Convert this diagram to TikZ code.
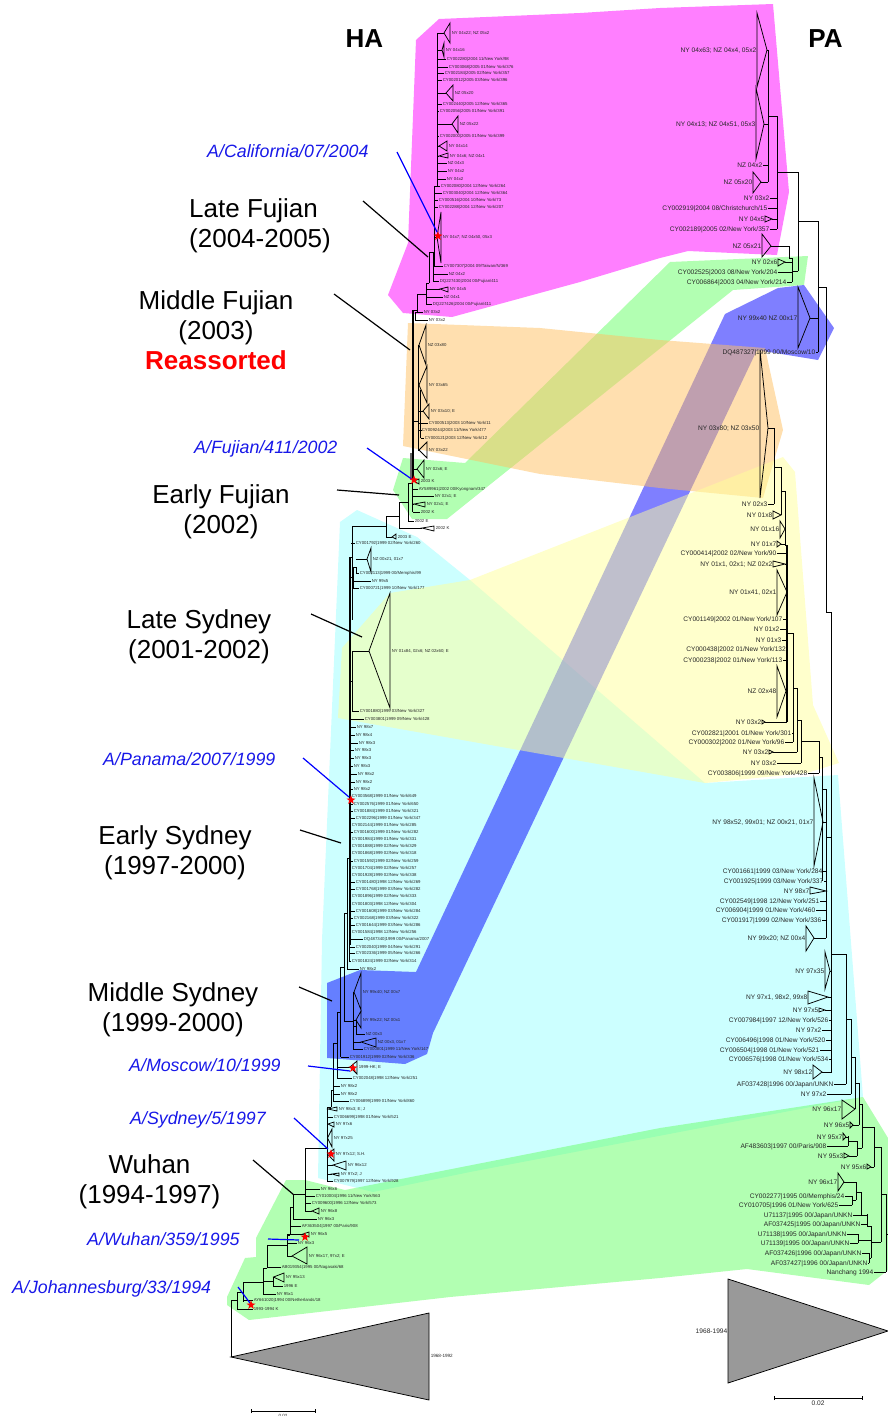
\documentclass[tikz,border=0pt]{standalone}
\usepackage{fontspec}
\setmainfont{Liberation Sans}
\usetikzlibrary{shapes.geometric, arrows.meta, positioning}
\definecolor{cladepink}{HTML}{FF00FF}
\definecolor{cladeorange}{HTML}{FFC060}
\definecolor{cladegreen}{HTML}{66FF66}
\definecolor{cladeblue}{HTML}{0000FF}
\definecolor{cladeyellow}{HTML}{FFFF99}
\definecolor{cladecyan}{HTML}{99FFFF}
\definecolor{strainblue}{HTML}{1818E8}
\definecolor{collapsed}{HTML}{999999}

\begin{document}
\begin{tikzpicture}[
  x=1pt, y=-1pt,
  patch/.style={fill opacity=0.5},
  branch/.style={draw=black, line width=0.75pt},
  thickbranch/.style={draw=black, line width=1.5pt},
  haleaf/.style={font=\fontsize{4.3}{5}\selectfont, text=black!85, inner sep=0.6pt, text height=3.1pt, text depth=0pt, anchor=west},
  paleaf/.style={font=\fontsize{6.6}{7}\selectfont, text=black!85, inner sep=0.5pt, text height=4.8pt, text depth=0pt, anchor=east},
  clade/.style={font=\fontsize{26}{30}\selectfont, align=center, inner sep=0pt},
  segment/.style={font=\fontsize{26}{26}\selectfont\bfseries, inner sep=0pt},
  strain/.style={font=\fontsize{17.8}{20}\selectfont\itshape, text=strainblue, anchor=west, inner sep=0pt},
  bluelead/.style={draw=blue, line width=1.2pt},
  blacklead/.style={draw=black, line width=1.2pt},
  redstar/.style={star, star points=5, star point ratio=2.5, fill=red, draw=none, minimum size=9.5pt, inner sep=0pt}
]
  \useasboundingbox (0,0) rectangle (888,1416);

  % Coloured clades
  \fill[patch, cladecyan] (357,510) -- (417,537) -- (470,580) -- (705,783) -- (838,775) -- (863,1097) -- (470,1172) -- (373,1192) -- (318,1178) -- (322,940) -- (340,522) -- cycle;
  \fill[patch, cladegreen] (286,1180) -- (305,1180) -- (345,1190) -- (660,1128) -- (863,1097) -- (888,1138) -- (888,1270) -- (869,1285) -- (747,1269) -- (660,1278) -- (450,1297) -- (249,1320) -- (227,1305) -- (227,1297) -- (245,1258) -- (256,1257) -- (256,1238) -- cycle;
  \fill[patch, cladegreen] (403,458) -- (465,463) -- (670,262) -- (808,256) -- (804,285) -- (733,290) -- (447,519) -- (412,519) -- (393,490) -- cycle;
  \fill[patch, cladeblue] (725,314) -- (778,288) -- (804,285) -- (834,328) -- (818,360) -- (757,350) -- (433,1033) -- (427,1054) -- (405,1064) -- (327,1058) -- (327,983) -- (360,970) -- (416,972) -- cycle;
  \fill[patch, cladepink] (439,19) -- (580,13) -- (660,8) -- (773,4) -- (789,192) -- (777,255) -- (688,251) -- (660,258) -- (580,282) -- (452,317) -- (403,313) -- (388,295) -- (408,243) -- (416,40) -- cycle;
  \fill[patch, cladeorange] (408,323) -- (540,328) -- (660,340) -- (765,348) -- (783,430) -- (763,498) -- (660,488) -- (540,474) -- (403,446) -- cycle;
  \fill[patch, cladeyellow] (342,648) -- (390,593) -- (470,580) -- (783,457) -- (795,472) -- (813,705) -- (839,763) -- (807,773) -- (705,783) -- (338,718) -- cycle;

  % Collapsed roots
  \filldraw[branch, fill=collapsed] (231,1357) -- (429,1313) -- (429,1400) -- cycle;
  \filldraw[branch, fill=collapsed] (888,1331) -- (728,1279) -- (728,1383) -- cycle;
  \node[haleaf, font=\fontsize{4.6}{5}\selectfont] (haroot) at (430,1356) {1968-1992};
  \node[paleaf] (paroot) at (728,1331) {1968-1994};

  % Titles
  \node[segment] (hatitle) at (364.5,39) {HA};
  \node[segment] (patitle) at (825.5,39) {PA};

  % HA tree, internal branches
  \foreach \xx/\ya/\yb in {437.5/33/186, 434/186/267, 433/252/281, 429/252/283, 426/283/305, 417/294/312, 415/312/320, 418/345/450, 420.5/390/438, 408/483/521, 412.5/480/512, 399/502/528, 386/516/537, 352/526/620, 356/567/573, 353/567/588, 352/651/712, 349/930/961, 347/858/969, 344/913/1021, 340/967/1057, 337/1012/1078, 333/1043/1101, 331/1090/1107, 327/1107/1181, 353/992/1049, 356/1020/1034, 305/1148/1211, 293/1194/1219, 290/1207/1235, 287/1234/1256, 267/1245/1267, 263/1268/1294, 273/1277/1286, 243/1282/1302, 237/1292/1309, 231/1300/1357}
    \draw[branch] (\xx,\ya) -- (\xx,\yb);
  \foreach \yy/\xa/\xb in {186/434/437.5, 252/429/434, 283/426/429, 294/417/426, 310/413/417, 421/413/418, 430/418/420.5, 483/408/413, 502/399/408, 516/386/399, 526/352/386, 557/350/352, 567/353/356, 577/350/353, 681/350/352, 858/347/350, 913/344/347, 967/340/344, 1012/337/340, 1021/344/353, 1026/353/356, 1043/333/337, 1090/331/333, 1107/327/331, 1148/305/327, 1194/293/305, 1207/290/293, 1235/288/290, 1245/267/287, 1268/263/267, 1281/263/273, 1282/243/263, 1292/237/243, 1300/231/237}
    \draw[branch] (\xa,\yy) -- (\xb,\yy);
  \draw[thickbranch] (413,310) -- (413,480);
  \draw[thickbranch] (350,557) -- (350,945);
  \draw[line width=2pt, draw=black!60] (411,453) -- (411,480);

  % HA tree, single strains
  \foreach \xa/\xl/\yy/\txt [count=\i] in {
    438/446/59/{CY002280|2004 11/New York/98}, 438/448/67/{CY003068|2005 01/New York/376}, 438/444/73/{CY002184|2005 02/New York/357}, 438/442/80/{CY002012|2005 03/New York/396},
    438/442/104/{CY002440|2005 12/New York/365}, 438/439/111/{CY002056|2005 01/New York/391}, 438/439/136/{CY002000|2005 01/New York/399},
    438/447/163/{NZ 04x3}, 438/447/171/{NY 04x2}, 438/446/179/{NY 04x2}, 437.5/440/186/{CY002080|2004 12/New York/264},
    434/442/193/{CY003040|2004 12/New York/364}, 434/438/200/{CY000516|2004 10/New York/73}, 434/438/207/{CY002288|2004 12/New York/207},
    434/443/266/{CY007307|2004 09/Taiwan/N/369}, 434/448/274/{NZ 04x2}, 433/439/281/{DQ227430|2004 00/Fujian/411}, 427/443/297/{NZ 04x1}, 426/432/304/{DQ227426|2004 00/Fujian/411},
    415/423/312/{NY 03x2}, 415/428/320/{NY 03x2}, 418/428/423/{CY000513|2003 10/New York/11}, 420.5/421/430/{CY009244|2003 11/New York/477}, 420.5/424/438/{CY000121|2003 12/New York/12},
    413/418/489/{AY589961|2002 00/Kyongnam/347}, 413/434/496/{NY 02x1; E}, 412.5/420/512/{2002 K}, 408/414/521/{2002 E},
    351/355/543/{CY001792|1999 02/New York/260}, 356/359/573/{CY002113|1999 00/Memphis/99}, 353/371/581/{NY 99x5}, 353/359/588/{CY000721|1999 10/New York/177},
    352/359/711/{CY001880|1999 03/New York/327}, 350/364/719/{CY003801|1999 09/New York/428},
    350/356/727/{NY 98x7}, 350/355/735/{NY 98x4}, 350/358/743/{NY 98x3}, 350/354/750/{NY 98x3}, 350/354/758/{NY 98x3}, 350/353/766/{NY 98x3}, 350/357/774/{NY 98x2}, 350/355/782/{NY 98x2}, 350/353/789/{NY 98x2},
    350/351/796/{CY003568|1999 01/New York/649}, 350/353/804/{CY002576|1999 01/New York/650}, 350/353/811/{CY001884|1999 01/New York/321}, 350/355/818/{CY002296|1999 01/New York/347}, 350/351/825/{CY002144|1999 01/New York/285}, 350/353/832/{CY001600|1999 01/New York/282}, 350/351/839/{CY001984|1999 01/New York/331}, 350/351/846/{CY001888|1999 02/New York/329}, 350/351/853/{CY001868|1999 02/New York/318},
    350/353/861/{CY001592|1999 02/New York/259}, 350/351/868/{CY001704|1999 02/New York/257}, 350/351/875/{CY001928|1999 02/New York/338}, 350/355/882/{CY001480|1998 12/New York/269}, 350/355/889/{CY001768|1999 03/New York/282}, 350/351/896/{CY001896|1999 02/New York/333}, 350/351/904/{CY001803|1998 12/New York/304}, 350/355/911/{CY001608|1999 03/New York/284}, 350/353/918/{CY002168|1999 03/New York/322}, 350/355/925/{CY001644|1999 03/New York/286}, 350/351/932/{CY001584|1998 12/New York/256},
    350/363/939/{DQ487340|1999 00/Panama/2007}, 349/355/947/{CY002040|1999 04/New York/291}, 349/355/953/{CY002336|1999 05/New York/266}, 349/351/961/{CY001824|1999 02/New York/314}, 347/359/969/{NY 98x2},
    356/365/1034/{NZ 00x3}, 353/363/1049/{CY000801|1999 11/New York/147}, 341/349/1057/{CY001912|1999 02/New York/336},
    337/352/1078/{CY002048|1998 12/New York/251}, 333/340/1086/{NY 98x2}, 333/340/1094/{NY 98x2}, 333/349/1101/{CY006899|1999 01/New York/860},
    327/333/1117/{CY006699|1998 01/New York/521}, 327/333/1181/{CY007979|1997 12/New York/928},
    305/320/1189/{NY 96x6}, 305/315/1196/{CY010004|1996 11/New York/563}, 305/311/1203/{CY009600|1996 12/New York/573}, 293/317/1219/{NY 96x3}, 290/301/1226/{AF363504|1997 00/Paris/908},
    287/297/1243/{NY 96x3}, 267/281/1267/{AB019354|1995 00/Nagasaki/68}, 273/283/1286/{1996 E}, 263/276/1294/{NY 95x1}, 243/253/1300/{AY661020|1994 00/Netherlands/18}, 237/253/1309/{1993-1994 K}}{
    \node[haleaf] (hs\i) at (\xl,\yy) {\txt};
    \draw[branch] (\xa,\yy) -- (hs\i);
  }

  % HA tree, collapsed clades
  \foreach \xs/\xa/\xb/\ya/\yb/\yy/\txt [count=\i] in {
    438/444/450/23/43/33/{NY 04x22; NZ 05x2}, 438/442/444/43/57/50/{NY 04x16}, 438/446/453/85/101/93/{NZ 05x20}, 438/452/458/116/133/124/{NZ 05x22}, 438/439/447/141/151/146/{NY 04x14}, 438/439/448/153/158/156/{NY 04x6; NZ 04x1},
    434/437/441/212/263/237/{NY 04x7; NZ 04x50, 05x3}, 427/440/448/287/292/289/{NY 04x5},
    418/419/426/325/365/345/{NZ 03x80}, 418/419/427/366/403/385/{NY 03x65}, 418/423/429/404/419/411/{NY 03x10; E}, 418/419/427/442/458/450/{NY 03x22},
    413/417/424/460/478/469/{NY 02x6; E}, 413/414/419/479/484/481/{2003 K}, 413/414/425/502/507/504/{NY 02x1; E}, 399/422/434/526/531/528/{2002 K}, 386/392/396/534/539/537/{2003 E},
    356/367/371/548/572/559/{NZ 00x21, 01x7}, 352/369/390/593/708/651/{NY 01x84, 02x6; NZ 02x60; E},
    353/354/361/973/1010/992/{NY 99x40; NZ 00x7}, 353/356/361/1011/1028/1020/{NY 99x22; NZ 00x1}, 353/361/376/1038/1047/1042/{NZ 00x3, 01x7}, 337/350/357/1061/1074/1067/{1999-HK; E},
    327/328/337/1107/1111/1109/{NY 98x3; E; J}, 327/328/334/1122/1127/1124/{NY 97x6}, 327/327.5/332/1129/1147/1138/{NY 97x25}, 327/327.5/334/1149/1161/1154/{NY 97x12; S.H.}, 327/333/346/1161/1170/1165/{NY 96x12}, 327/332/339/1173/1176/1174/{NY 97x2; J},
    305/312/319/1208/1214/1211/{NY 96x8}, 288/303/309/1232/1237/1234/{NY 96x5}, 287/292/307/1247/1264/1256/{NY 96x17, 97x2; E}, 273/273.5/284/1273/1282/1277/{NY 95x13}}{
    \node[haleaf] (hc\i) at (\xb+1,\yy) {\txt};
    \draw[branch] (\xs,\yy) -- (\xa,\yy);
    \draw[branch] (\xa,\yy) -- (\xb,\ya) -- (\xb,\yb) -- cycle;
  }

  % PA tree, internal branches
  \foreach \xx/\ya/\yb in {768/50/182, 777/116/229, 789/246/258, 792/258/282, 798/172/271, 818/221/352, 826/287/612, 774/428/504, 781/467/515, 785/491/545, 793/633/742, 797/688/752, 801/720/763, 819/741/773, 822.5/757/881, 826/789/938, 831/612/1072, 846/954/1084, 851/1019/1094, 855/1057/1109, 859/1083/1125, 848/1136/1146, 857/1141/1156, 862/1104/1148, 874/1127/1167, 852/1196/1205, 856/1182/1200, 861/1192/1215, 858/1234/1243, 867/1214/1226, 871/1226/1258, 869/1253/1263, 881/1147/1242, 886/1194/1272}
    \draw[branch] (\xx,\ya) -- (\xx,\yb);
  \foreach \yy/\xa/\xb in {116/768/777, 172/777/798, 258/789/792, 271/792/798, 221/798/818, 287/818/826, 467/774/781, 491/781/785, 545/785/787, 633/787/793, 688/793/797, 720/797/801, 741/801/819, 757/819/822.5, 612/826/831, 789/822.5/826, 837/826/831, 954/831/846, 1019/846/851, 1057/851/855, 1083/855/859, 1104/859/862, 1141/848/857, 1148/857/862, 1127/862/874, 1147/874/881, 1200/852/856, 1192/856/861, 1226/867/871, 1240/858/871, 1258/869/871, 1242/871/881, 1194/881/886, 1234/886/888}
    \draw[branch] (\xa,\yy) -- (\xb,\yy);
  \draw[thickbranch] (787,545) -- (787,722);

  % PA tree, single strains
  \foreach \xa/\xt/\yy/\txt [count=\i] in {
    777/770/198/{NY 03x2}, 777/768/208/{CY002919|2004 08/Christchurch/15}, 777/770/229/{CY002189|2005 02/New York/357}, 768/763/165/{NZ 04x2},
    792/778/272/{CY002525|2003 08/New York/204}, 792/787/282/{CY006864|2003 04/New York/214}, 818/816/352/{DQ487327|1999 00/Moscow/10}, 774/768/504/{NY 02x3},
    786/777/553/{CY000414|2002 02/New York/90}, 787/783/619/{CY001149|2002 01/New York/107}, 787/780/629/{NY 01x2}, 787/782/640/{NY 01x3}, 787/786.5/649/{CY000438|2002 01/New York/132}, 787/783/660/{CY000238|2002 01/New York/113},
    793/792/733/{CY002821|2001 01/New York/301}, 793/785/742/{CY000302|2002 01/New York/96}, 801/777/763/{NY 03x2}, 819/808/773/{CY003806|1999 09/New York/428},
    826/823/871/{CY001661|1999 03/New York/284}, 826/824/881/{CY001925|1999 03/New York/337}, 826/820/901/{CY002549|1998 12/New York/251}, 826/816/910/{CY006904|1999 01/New York/460}, 826/822/920/{CY001917|1999 02/New York/336},
    831/829/1020/{CY007984|1997 12/New York/526}, 831/822/1030/{NY 97x2}, 831/826/1040/{CY006496|1998 01/New York/520}, 831/820/1050/{CY006504|1998 01/New York/521}, 831/829/1059/{CY006576|1998 01/New York/534},
    846/834/1084/{AF037428|1996 00/Japan/UNKN}, 851/827/1094/{NY 97x2}, 848/827/1146/{AF483603|1997 00/Paris/908},
    852/845/1196/{CY002277|1995 00/Memphis/24}, 852/839/1205/{CY010705|1996 01/New York/625}, 867/853/1215/{U71137|1995 00/Japan/UNKN}, 867/861/1224/{AF037425|1995 00/Japan/UNKN}, 858/847/1234/{U71138|1995 00/Japan/UNKN}, 858/850/1243/{U71139|1995 00/Japan/UNKN}, 869/862/1253/{AF037426|1996 00/Japan/UNKN}, 869/868/1263/{AF037427|1996 00/Japan/UNKN}, 886/874/1272/{Nanchang 1994}}{
    \node[paleaf] (ps\i) at (\xt,\yy) {\txt};
    \draw[branch] (\xa,\yy) -- (ps\i);
  }

  % PA tree, collapsed clades
  \foreach \xs/\xa/\xb/\ya/\yb/\yy/\txt [count=\i] in {
    768/767/757/13/87/50/{NY 04x63; NZ 04x4, 05x2}, 768/764/756/88/159/124/{NY 04x13; NZ 04x51, 05x3}, 768/761/753/172/193/182/{NZ 05x20}, 777/772/765/216/222/219/{NY 04x5}, 789/771/762/234/257/246/{NZ 05x21}, 792/785/778/259/266/262/{NY 02x6},
    818/810/798/287/348/318/{NY 99x40 NZ 00x17}, 774/768/760/350/498/428/{NY 03x80; NZ 03x50}, 781/781/773/511/519/515/{NY 01x8}, 785/785/780/521/538/529/{NY 01x16}, 786/781/777/541/547/544/{NY 01x7}, 786/785/773/561/567/564/{NY 01x1, 02x1; NZ 02x2}, 787/787/777/570/615/592/{NY 01x41, 02x1}, 787/786/777/666/717/691/{NZ 02x48}, 787/765/762/720/724/722/{NY 03x2}, 797/773/769/750/754/752/{NY 03x2},
    826/823/814/778/866/822/{NY 98x52, 99x01; NZ 00x21, 01x7}, 826/826/810/887/894/891/{NY 98x7}, 826/814/806/926/951/938/{NY 99x20; NZ 00x4}, 831/830/825/952/989/971/{NY 97x35}, 831/828/808/991/1004/997/{NY 97x1, 98x2, 99x8}, 831/825/819/1008/1012/1010/{NY 97x5}, 832/822/813/1065/1079/1072/{NY 98x12},
    855/855/842/1100/1119/1109/{NY 96x17}, 859/853/850/1122/1128/1125/{NY 96x5}, 848/846/843/1133/1140/1137/{NY 95x7}, 857/849/844/1153/1158/1156/{NY 95x3}, 874/871/867/1164/1169/1167/{NY 95x6}, 856/844/838/1173/1191/1182/{NY 96x17}}{
    \node[paleaf] (pc\i) at (\xb,\yy) {\txt};
    \draw[branch] (\xs,\yy) -- (\xa,\yy);
    \draw[branch] (\xa,\yy) -- (\xb,\ya) -- (\xb,\yb) -- cycle;
  }

  % Scale bars
  \coordinate (hascaleL) at (251,1411);
  \coordinate (hascaleR) at (316,1411);
  \coordinate (pascaleL) at (774,1398);
  \coordinate (pascaleR) at (863,1398);
  \draw[branch, {Bar[width=4pt]}-{Bar[width=4pt]}] (hascaleL) -- (hascaleR);
  \draw[branch, {Bar[width=4pt]}-{Bar[width=4pt]}] (pascaleL) -- (pascaleR);
  \node[font=\fontsize{4.6}{5}\selectfont, text=black!85, inner sep=0pt] (hascale) at (283,1415.5) {0.02};
  \node[font=\fontsize{6.6}{7}\selectfont, text=black!85, inner sep=0pt] (pascale) at (818,1403.5) {0.02};

  % Clade names
  \node[clade, anchor=north west, align=left] (latefujian) at (189,198) {Late Fujian\\(2004-2005)};
  \node[clade] (midfujian) at (216,330) {Middle Fujian\\(2003)\\\textcolor{red}{\bfseries Reassorted}};
  \node[clade] (earlyfujian) at (221,512) {Early Fujian\\(2002)};
  \node[clade] (latesydney) at (199,637) {Late Sydney\\(2001-2002)};
  \node[clade] (earlysydney) at (175,853) {Early Sydney\\(1997-2000)};
  \node[clade] (midsydney) at (173,1009.5) {Middle Sydney\\(1999-2000)};
  \node[clade] (wuhan) at (149.5,1182) {Wuhan\\(1994-1997)};

  % Vaccine strains
  \node[strain] (california) at (207,151) {A/California/07/2004};
  \node[strain] (fujian) at (194,449) {A/Fujian/411/2002};
  \node[strain] (panama) at (103,759) {A/Panama/2007/1999};
  \node[strain] (moscow) at (129,1065) {A/Moscow/10/1999};
  \node[strain] (sydney) at (130,1120) {A/Sydney/5/1997};
  \node[strain] (wuhanstr) at (87,1239) {A/Wuhan/359/1995};
  \node[strain] (johannes) at (12,1289) {A/Johannesburg/33/1994};

  % Leaders
  \foreach \nm/\ax/\ay/\bx/\by in {lf/363/201/428/257, mf/334/294/410/350, ef/337/490/399/495, ls/311/614/362/637, es/300/830/341/843, ms/299/987/332/1001, wu/253/1160/294/1195}{
    \coordinate (\nm from) at (\ax,\ay);
    \coordinate (\nm to) at (\bx,\by);
    \draw[blacklead] (\nm from) -- (\nm to);
  }
  \foreach \nm/\ax/\ay/\bx/\by in {cal/397/152/437/232, fuj/367/448/413/480, pan/303/758/349/797, mos/308/1066/350/1071, syd/294/1118/328/1149, wuh/268/1239/299/1240, joh/238/1287/250/1303}{
    \coordinate (\nm from) at (\ax,\ay);
    \coordinate (\nm to) at (\bx,\by);
    \draw[bluelead] (\nm from) -- (\nm to);
  }

  % Vaccine markers
  \node[redstar] (starcal) at (438,236) {};
  \node[redstar] (starfuj) at (414,480) {};
  \node[redstar] (starpan) at (351,800) {};
  \node[redstar] (starmos) at (353,1068) {};
  \node[redstar] (starsyd) at (331,1154) {};
  \node[redstar] (starwuh) at (305,1237) {};
  \node[redstar] (starjoh) at (251,1305) {};
\end{tikzpicture}
\end{document}
